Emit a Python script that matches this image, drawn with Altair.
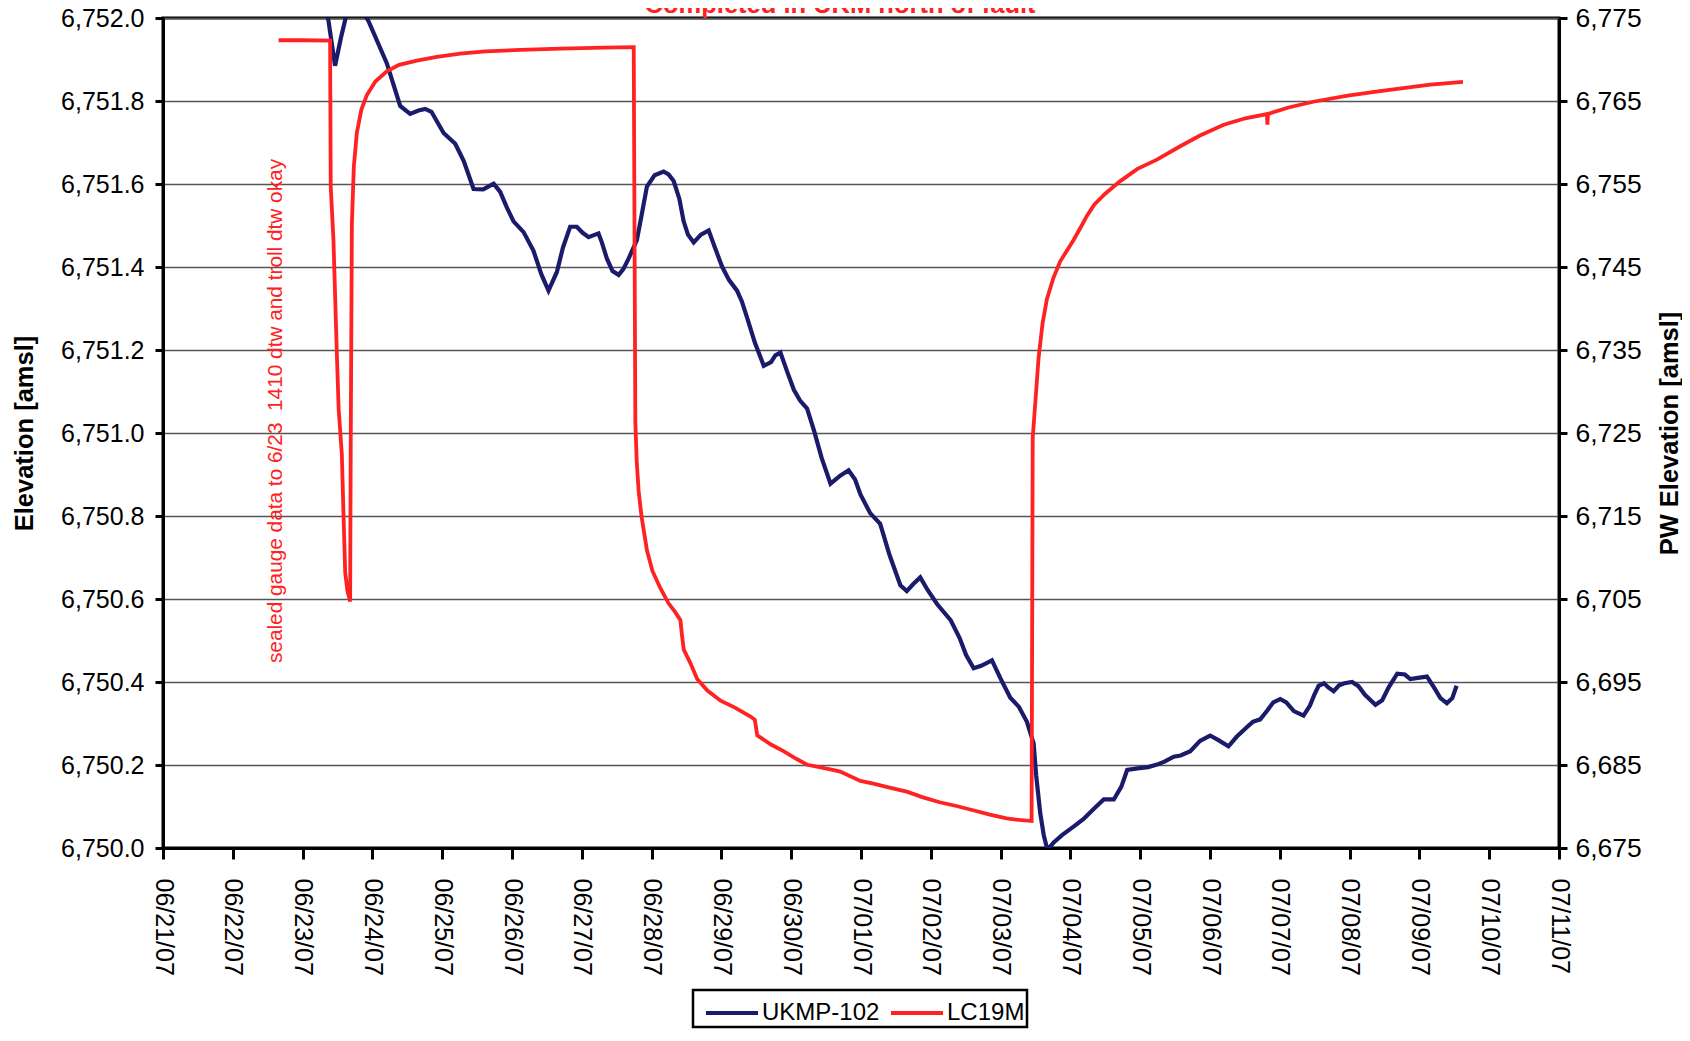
import altair as alt
import pandas as pd

FONT = "Liberation Sans, Arial, Helvetica, sans-serif"
NAVY = "#1b1b6b"
RED = "#ff2222"

# ---------------- data (days since 06/21/07 00:00) ----------------
ukmp_day = [
    2.33, 2.37, 2.465, 2.55, 2.61, 2.64, 2.84, 2.94, 3.206, 3.398,
    3.541, 3.66, 3.756, 3.846, 4.02, 4.187, 4.309, 4.449, 4.587, 4.737,
    4.831, 4.927, 5.022, 5.166, 5.308, 5.421, 5.523, 5.643, 5.73, 5.833,
    5.929, 6.008, 6.097, 6.239, 6.286, 6.36, 6.44, 6.527, 6.595, 6.67,
    6.789, 6.857, 6.933, 7.043, 7.172, 7.243, 7.316, 7.398, 7.459, 7.521,
    7.603, 7.707, 7.818, 7.907, 8.009, 8.108, 8.224, 8.293, 8.368, 8.479,
    8.607, 8.711, 8.773, 8.846, 8.942, 9.038, 9.127, 9.228, 9.328, 9.436,
    9.563, 9.702, 9.822, 9.915, 9.992, 10.131, 10.275, 10.409, 10.564, 10.656,
    10.749, 10.849, 10.95, 11.089, 11.284, 11.413, 11.506, 11.614, 11.722, 11.876,
    12.0, 12.139, 12.263, 12.377, 12.473, 12.51, 12.568, 12.618, 12.664, 12.71,
    12.757, 12.88, 13.05, 13.189, 13.344, 13.478, 13.622, 13.73, 13.813, 13.961,
    14.116, 14.24, 14.348, 14.48, 14.579, 14.718, 14.857, 15.002, 15.12, 15.265,
    15.382, 15.527, 15.614, 15.719, 15.815, 15.907, 16.006, 16.093, 16.201, 16.34,
    16.432, 16.494, 16.556, 16.633, 16.695, 16.772, 16.849, 16.927, 17.035, 17.127,
    17.22, 17.37, 17.467, 17.56, 17.682, 17.792, 17.869, 17.977, 18.108, 18.209,
    18.301, 18.394, 18.471, 18.533,
]
ukmp_elev = [
    6752.03, 6751.994, 6751.885, 6751.953, 6751.995, 6752.02, 6752.02, 6751.994, 6751.891, 6751.788,
    6751.769, 6751.777, 6751.781, 6751.774, 6751.723, 6751.697, 6751.655, 6751.588, 6751.587, 6751.601,
    6751.581, 6751.543, 6751.51, 6751.484, 6751.439, 6751.382, 6751.343, 6751.388, 6751.447, 6751.497,
    6751.497, 6751.483, 6751.472, 6751.481, 6751.46, 6751.42, 6751.39, 6751.381, 6751.395, 6751.42,
    6751.465, 6751.525, 6751.594, 6751.621, 6751.63, 6751.623, 6751.607, 6751.564, 6751.51, 6751.478,
    6751.459, 6751.478, 6751.488, 6751.447, 6751.401, 6751.369, 6751.343, 6751.317, 6751.278, 6751.218,
    6751.162, 6751.171, 6751.187, 6751.194, 6751.148, 6751.104, 6751.078, 6751.059, 6751.005, 6750.94,
    6750.878, 6750.897, 6750.91, 6750.888, 6750.852, 6750.807, 6750.781, 6750.706, 6750.633, 6750.619,
    6750.636, 6750.652, 6750.623, 6750.588, 6750.549, 6750.506, 6750.465, 6750.433, 6750.439, 6750.452,
    6750.408, 6750.362, 6750.34, 6750.304, 6750.252, 6750.174, 6750.084, 6750.031, 6750.0, 6750.003,
    6750.013, 6750.031, 6750.052, 6750.07, 6750.096, 6750.117, 6750.117, 6750.148, 6750.188, 6750.192,
    6750.195, 6750.201, 6750.208, 6750.22, 6750.223, 6750.233, 6750.258, 6750.271, 6750.26, 6750.245,
    6750.268, 6750.291, 6750.304, 6750.31, 6750.33, 6750.351, 6750.359, 6750.351, 6750.33, 6750.319,
    6750.343, 6750.369, 6750.391, 6750.397, 6750.387, 6750.378, 6750.392, 6750.397, 6750.4, 6750.39,
    6750.369, 6750.345, 6750.356, 6750.387, 6750.42, 6750.418, 6750.407, 6750.41, 6750.413, 6750.387,
    6750.361, 6750.349, 6750.361, 6750.391,
]

lc19m_day = [
    1.656, 1.992, 2.394, 2.403, 2.442, 2.490, 2.517, 2.562, 2.587, 2.610,
    2.641, 2.681, 2.690, 2.706, 2.734, 2.777, 2.842, 2.919, 3.042, 3.206,
    3.382, 3.637, 3.923, 4.258, 4.618, 5.118, 5.699, 6.317, 6.744, 6.767,
    6.788, 6.815, 6.857, 6.934, 7.012, 7.126, 7.243, 7.336, 7.413, 7.436,
    7.461, 7.552, 7.653, 7.799, 7.988, 8.201, 8.417, 8.479, 8.514, 8.710,
    8.896, 9.066, 9.228, 9.405, 9.611, 9.702, 9.992, 10.178, 10.409, 10.656,
    10.888, 11.127, 11.367, 11.606, 11.846, 12.085, 12.263, 12.444, 12.460, 12.544,
    12.602, 12.664, 12.757, 12.854, 12.958, 13.046, 13.158, 13.236, 13.344, 13.498,
    13.714, 13.961, 14.240, 14.573, 14.857, 15.197, 15.506, 15.815, 15.823, 15.830,
    16.124, 16.479, 16.973, 17.436, 17.822, 18.155, 18.624,
]
lc19m_elev = [
    6772.32, 6772.32, 6772.27, 6754.70, 6748.25, 6734.70, 6727.86, 6722.44, 6714.87, 6708.25,
    6706.04, 6704.70, 6724.38, 6750.19, 6757.08, 6761.16, 6763.96, 6765.68, 6767.34, 6768.58,
    6769.35, 6769.87, 6770.32, 6770.71, 6770.97, 6771.16, 6771.30, 6771.43, 6771.49, 6726.33,
    6721.36, 6717.94, 6714.87, 6710.84, 6708.38, 6706.30, 6704.48, 6703.44, 6702.44, 6700.58,
    6698.90, 6697.34, 6695.35, 6693.96, 6692.75, 6691.88, 6690.84, 6690.45, 6688.56, 6687.47,
    6686.64, 6685.78, 6685.03, 6684.74, 6684.38, 6684.20, 6683.08, 6682.75, 6682.27, 6681.79,
    6681.10, 6680.51, 6680.06, 6679.55, 6679.03, 6678.56, 6678.38, 6678.25, 6724.38, 6734.05,
    6738.25, 6741.16, 6743.70, 6745.68, 6747.08, 6748.25, 6749.94, 6751.16, 6752.53, 6753.83,
    6755.35, 6756.82, 6757.94, 6759.55, 6760.84, 6762.14, 6762.92, 6763.43, 6762.14, 6763.44,
    6764.22, 6764.91, 6765.65, 6766.19, 6766.62, 6766.97, 6767.30,
]

series_names = ["UKMP-102", "LC19M"]
tick_dates = [(6, d) for d in range(21, 31)] + [(7, d) for d in range(1, 12)]
left_ticks = [6750.0, 6750.2, 6750.4, 6750.6, 6750.8, 6751.0, 6751.2, 6751.4, 6751.6, 6751.8, 6752.0]
right_ticks = [6675, 6685, 6695, 6705, 6715, 6725, 6735, 6745, 6755, 6765, 6775]

note_text = ["sealed gauge data to 6/23\u00a0 1410 dtw and troll dtw okay"]
note_day = [1.62]
note_elev = [6751.053]
title_text = ["Completed in UKM north of fault"]
title_day = [9.70]
title_elev = [6752.012]

assert len(ukmp_day) == len(ukmp_elev)
assert len(lc19m_day) == len(lc19m_elev)

base = pd.Timestamp("2007-06-21")


def to_time(days):
    return [(base + pd.Timedelta(days=d)).strftime("%Y-%m-%dT%H:%M:%S") for d in days]


ukmp_df = pd.DataFrame({"time": to_time(ukmp_day), "value": ukmp_elev, "series": series_names[0]})
lc_df = pd.DataFrame({"time": to_time(lc19m_day), "value": lc19m_elev, "series": series_names[1]})
note_df = pd.DataFrame({"time": to_time(note_day), "value": note_elev, "label": note_text})
title_df = pd.DataFrame({"time": to_time(title_day), "value": title_elev, "label": title_text})

# ---------------- encodings ----------------
x_enc = alt.X(
    "time:T",
    title=None,
    scale=alt.Scale(domain=[alt.DateTime(year=2007, month=6, date=21),
                            alt.DateTime(year=2007, month=7, date=11)]),
    axis=alt.Axis(
        values=[alt.DateTime(year=2007, month=m, date=d) for m, d in tick_dates],
        format="%m/%d/%y",
        labelAngle=90, labelAlign="left", labelBaseline="middle",
        labelFontSize=25, labelPadding=19, labelOverlap=False,
        tickSize=11, tickWidth=3, domainWidth=3, grid=False,
    ),
)

left_scale = alt.Scale(domain=[6750.0, 6752.0], nice=False, zero=False)
left_axis = alt.Axis(
    values=left_ticks, format=",.1f", labelFontSize=25, labelPadding=11,
    tickSize=8, tickWidth=3, domainWidth=3,
    grid=True, gridColor="#555555", gridWidth=1.3,
    title="Elevation [amsl]", titleFontSize=25.5, titleFontWeight="bold",
    titleAngle=270, titleX=-139, titleY=415, titleAlign="center", titleBaseline="middle",
)
right_scale = alt.Scale(domain=[6675, 6775], nice=False, zero=False)
right_axis = alt.Axis(
    orient="right", values=right_ticks, format=",d", labelFontSize=26.5, labelPadding=8,
    tickSize=8, tickWidth=3, domainWidth=3, grid=False,
    title="PW Elevation [amsl]", titleFontSize=25.5, titleFontWeight="bold",
    titleAngle=270, titleX=110, titleY=415, titleAlign="center", titleBaseline="middle",
)

color_enc = alt.Color(
    "series:N",
    scale=alt.Scale(domain=series_names, range=[NAVY, RED]),
    legend=alt.Legend(
        orient="none", legendX=530, legendY=972, direction="horizontal", title=None,
        symbolType="M-1.37,0H1.37", symbolSize=1444, symbolStrokeWidth=4, symbolOffset=16,
        labelFontSize=24, labelFont=FONT, labelColor="black", labelOffset=9,
        strokeColor="black", fillColor="white", padding=2, columnPadding=-6,
    ),
)

blue = alt.Chart(ukmp_df).mark_line(strokeWidth=4.2, clip=True).encode(
    x=x_enc, y=alt.Y("value:Q", scale=left_scale, axis=left_axis), color=color_enc,
)
note = alt.Chart(note_df).mark_text(
    angle=270, align="center", baseline="middle", fontSize=20.8, font=FONT, color=RED,
).encode(x=x_enc, y=alt.Y("value:Q", scale=left_scale, axis=left_axis), text="label:N")
title = alt.Chart(title_df).mark_text(
    align="center", baseline="alphabetic", fontSize=25.5, fontWeight="bold", font=FONT,
    color=RED, clip=False,
).encode(x=x_enc, y=alt.Y("value:Q", scale=left_scale, axis=left_axis), text="label:N")

red = alt.Chart(lc_df).mark_line(strokeWidth=3.8, clip=True).encode(
    x=x_enc, y=alt.Y("value:Q", scale=right_scale, axis=right_axis), color=color_enc,
)

chart = (
    alt.layer(alt.layer(blue, note, title), red)
    .resolve_scale(y="independent")
    .properties(
        width=1396, height=830,
        autosize=alt.AutoSizeParams(type="none"),
        padding={"left": 155, "top": 10, "right": 123, "bottom": 183},
        background="white",
    )
    .configure_axis(labelFont=FONT, titleFont=FONT, labelColor="black", titleColor="black",
                    domainColor="black", tickColor="black")
    .configure_legend(strokeWidth=2.5)
    .configure_view(stroke="black", strokeWidth=3)
)

chart.save("out.html", embed_options={"renderer": "svg", "actions": False})
